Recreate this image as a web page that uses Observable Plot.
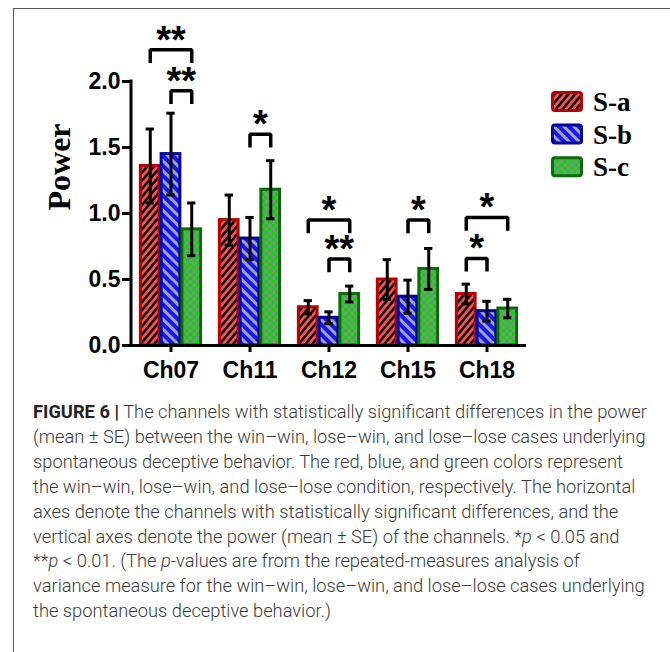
<!DOCTYPE html>
<html>
<head>
<meta charset="utf-8">
<script src="https://cdn.jsdelivr.net/npm/d3@7"></script>
<script src="https://cdn.jsdelivr.net/npm/@observablehq/plot@0.6"></script>
<style>
  body { margin: 0; background: #fff; }
  #wrap { position: relative; width: 670px; height: 652px; overflow: hidden; background: #fff; }
  #frame { position: absolute; left: 13px; top: 8px; width: 700px; height: 700px;
           border-left: 1.5px solid #555; border-top: 1.5px solid #555; }
  #chart { position: absolute; left: 0; top: 0; }
  #legend { position: absolute; left: 549px; top: 88px; }
  #caption { position: absolute; left: 33px; top: 400px; white-space: nowrap;
             font-family: Roboto, "Liberation Sans", Arial, sans-serif; font-weight: 300;
             font-size: 17.5px; line-height: 24.9px; color: #3a3a3a; transform-origin: 0 0; }
  #caption b { font-weight: 700; color: #222; }
</style>
</head>
<body>
<svg width="0" height="0" style="position:absolute">
  <defs>
    <pattern id="patA" patternUnits="userSpaceOnUse" width="5.2" height="5.2" patternTransform="rotate(40)">
      <rect width="5.2" height="5.2" fill="#ff5050"/>
      <rect width="2.5" height="5.2" fill="#000"/>
    </pattern>
    <pattern id="patB" patternUnits="userSpaceOnUse" width="7" height="7" patternTransform="rotate(-45)">
      <rect width="7" height="7" fill="#1414ff"/>
      <rect width="3" height="7" fill="#a4a4a4"/>
    </pattern>
    <pattern id="patC" patternUnits="userSpaceOnUse" width="7" height="7">
      <rect width="7" height="7" fill="#00dc00"/>
      <rect width="3.5" height="3.5" fill="#8c8c8c"/>
      <rect x="3.5" y="3.5" width="3.5" height="3.5" fill="#8c8c8c"/>
    </pattern>
  </defs>
</svg>
<div id="wrap">
  <div id="frame"></div>
  <div id="chart"></div>
  <div id="legend"></div>
  <div id="caption"></div>
</div>
<script>
// ---------- data ----------
const channels = ["Ch07", "Ch11", "Ch12", "Ch15", "Ch18"];
const series = ["S-a", "S-b", "S-c"];
const meanA = [1.36, 0.95, 0.29, 0.50, 0.39];
const seA   = [0.28, 0.19, 0.05, 0.15, 0.075];
const meanB = [1.45, 0.81, 0.21, 0.37, 0.26];
const seB   = [0.31, 0.16, 0.045, 0.125, 0.075];
const meanC = [0.88, 1.18, 0.39, 0.58, 0.28];
const seC   = [0.20, 0.22, 0.06, 0.155, 0.07];
const yTicks = [0, 0.5, 1.0, 1.5, 2.0];
const yLabel = "Power";

const bracketCh    = ["Ch07", "Ch07", "Ch11", "Ch12", "Ch12", "Ch15", "Ch18", "Ch18"];
const bracketFrom  = ["S-a",  "S-b",  "S-b",  "S-a",  "S-b",  "S-b",  "S-a",  "S-a"];
const bracketTo    = ["S-c",  "S-c",  "S-c",  "S-c",  "S-c",  "S-c",  "S-c",  "S-b"];
const bracketLevel = [2.24,   1.93,   1.60,   0.95,   0.655,  0.95,   0.97,   0.66];
const bracketStars = ["**",   "**",   "*",    "*",    "**",   "*",    "*",    "*"];

const captionLines = [
  "<b>FIGURE 6 |</b> The channels with statistically significant differences in the power",
  "(mean ± SE) between the win–win, lose–win, and lose–lose cases underlying",
  "spontaneous deceptive behavior. The red, blue, and green colors represent",
  "the win–win, lose–win, and lose–lose condition, respectively. The horizontal",
  "axes denote the channels with statistically significant differences, and the",
  "vertical axes denote the power (mean ± SE) of the channels. *<i>p</i> &lt; 0.05 and",
  "**<i>p</i> &lt; 0.01. (The <i>p</i>-values are from the repeated-measures analysis of",
  "variance measure for the win–win, lose–win, and lose–lose cases underlying",
  "the spontaneous deceptive behavior.)"
];

// ---------- derived tables ----------
const means = [meanA, meanB, meanC];
const ses = [seA, seB, seC];
const fills = ["url(#patA)", "url(#patB)", "url(#patC)"];
const strokes = ["#b80000", "#0000a0", "#0a6a0a"];

const rows = [];
series.forEach((s, j) => channels.forEach((ch, i) => {
  rows.push({ch, s, j, mean: means[j][i], lo: means[j][i] - ses[j][i], hi: means[j][i] + ses[j][i]});
}));

const brackets = bracketCh.map((ch, k) => ({
  id: k, ch,
  a: series.indexOf(bracketFrom[k]),
  b: series.indexOf(bracketTo[k]),
  level: bracketLevel[k],
  stars: bracketStars[k]
}));
const legLen = 0.1;
const bracketPts = brackets.flatMap(d => [
  {id: d.id, ch: d.ch, x: d.a, y: d.level - legLen},
  {id: d.id, ch: d.ch, x: d.a, y: d.level},
  {id: d.id, ch: d.ch, x: d.b, y: d.level},
  {id: d.id, ch: d.ch, x: d.b, y: d.level - legLen}
]);

const sans = "'Liberation Sans', Arial, Helvetica, sans-serif";
const serif = "'Liberation Serif', 'Times New Roman', serif";

const chart = Plot.plot({
  width: 670,
  height: 390,
  marginTop: 81,
  marginBottom: 45,
  marginLeft: 131,
  marginRight: 144,
  style: {fontFamily: sans, fontWeight: "bold", color: "black", background: "transparent", overflow: "visible"},
  fx: {domain: channels, padding: 0, label: null},
  x: {domain: [-0.905, 2.905], axis: null},
  y: {domain: [0, 2], axis: null},
  marks: [
    ...series.map((s, j) => Plot.rectY(rows.filter(r => r.j === j), {
      fx: "ch", x1: r => r.j - 0.5, x2: r => r.j + 0.5, y1: 0, y2: "mean",
      fill: fills[j], stroke: strokes[j], strokeWidth: 3, insetLeft: 1, insetRight: 1
    })),
    Plot.ruleY([0], {stroke: "black", strokeWidth: 3}),
    Plot.ruleX(rows, {fx: "ch", x: "j", y1: "lo", y2: "hi", stroke: "black", strokeWidth: 3}),
    Plot.ruleY(rows, {fx: "ch", y: "hi", x1: r => r.j - 0.2, x2: r => r.j + 0.2, stroke: "black", strokeWidth: 3}),
    Plot.ruleY(rows, {fx: "ch", y: "lo", x1: r => r.j - 0.2, x2: r => r.j + 0.2, stroke: "black", strokeWidth: 3}),
    Plot.line(bracketPts, {fx: "ch", x: "x", y: "y", z: "id", stroke: "black", strokeWidth: 3.5,
      strokeLinejoin: "miter", strokeLinecap: "butt"}),
    Plot.text(brackets, {fx: "ch", x: d => (d.a + d.b) / 2, y: "level", text: "stars",
      lineAnchor: "bottom", dy: 3, fontSize: 38, fontWeight: "bold", fontFamily: sans, fill: "black"}),
    Plot.text([{ch: channels[0], label: yLabel}], {fx: "ch", text: "label", frameAnchor: "left",
      rotate: -90, dx: -72, dy: -3, fontSize: 32, fontWeight: "bold", fontFamily: serif, fill: "black"}),
    Plot.axisY({ticks: yTicks, tickFormat: d3.format(".1f"), tickSize: 9, tickPadding: 2,
      strokeWidth: 3, fontSize: 23, fontWeight: "bold", label: null}),
    Plot.axisFx({anchor: "bottom", tickSize: 7, tickPadding: 9, strokeWidth: 3,
      fontSize: 23, fontWeight: "bold", label: null})
  ]
});

// y-axis domain line
const ys = chart.scale("y");
d3.select(chart).append("line")
  .attr("x1", 131).attr("x2", 131)
  .attr("y1", ys.apply(0) + 1.5).attr("y2", ys.apply(2) - 1.5)
  .attr("stroke", "black").attr("stroke-width", 3);

document.getElementById("chart").appendChild(chart);

// ---------- legend ----------
const leg = d3.select("#legend").append("svg").attr("width", 110).attr("height", 100);
series.forEach((s, j) => {
  const g = leg.append("g").attr("transform", `translate(0, ${3 + j * 32.6})`);
  g.append("rect").attr("x", 3.5).attr("y", 1.5).attr("width", 29).attr("height", 18).attr("rx", 2.5)
    .attr("fill", fills[j]).attr("stroke", strokes[j]).attr("stroke-width", 3);
  g.append("text").attr("x", 44).attr("y", 20).text(s)
    .attr("font-family", serif).attr("font-weight", "bold").attr("font-size", 27).attr("fill", "black");
});

// ---------- caption ----------
const cap = document.getElementById("caption");
cap.innerHTML = captionLines.map(l => `<div><span>${l}</span></div>`).join("");
const tw = cap.querySelector("span").getBoundingClientRect().width;
cap.style.transform = `scaleX(${614 / tw})`;
</script>
</body>
</html>
